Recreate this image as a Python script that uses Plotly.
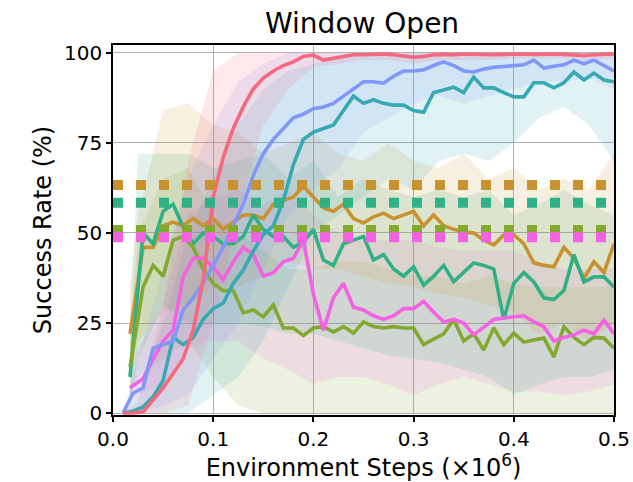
import plotly.graph_objects as go

# ---------------- data ----------------
X = [round(0.01 * i, 2) for i in range(1, 51)]          # eval steps (x1e6)
X2 = [0.017] + X[2:]                                    # later-starting runs

RED = [0, 0, 0.3, 3.5, 7, 11, 15, 23, 37, 60, 71, 79, 85, 90, 93, 95, 96.5, 97.5, 99, 99.4,
       98, 98.5, 99, 99.5, 99.5, 99.7, 99.7, 99.5, 99.2, 98.8, 99, 99.5, 99.6, 99.5, 99.7, 99.6,
       99.7, 99.5, 99.6, 99.7, 99.7, 99.6, 99.7, 99.7, 99.6, 99.5, 99.3, 99.5, 99.6, 99.7]
BLUE = [0, 5.5, 7, 18, 19, 20, 28.6, 32, 36, 41, 46, 52, 58, 66, 72, 76, 79, 82, 83, 84.5,
        85, 86, 88, 90, 92, 92, 91.6, 93.5, 95, 95, 95.3, 96.5, 97.5, 96.5, 95, 94.7, 95.5, 96,
        96.3, 96.5, 96.7, 98, 95.8, 96.3, 96.7, 98, 97, 98, 96.5, 95]
TEAL = [0, 0.5, 1.7, 4.5, 9, 21, 19, 21, 26, 29, 30.5, 36, 39.7, 45, 49.5, 52, 59, 69, 76, 78,
        79, 80, 84, 88, 86, 87, 86, 85.5, 85.5, 84, 83.5, 89, 89.7, 90.5, 89, 93.3, 90.3, 90.3,
        89, 87.8, 87.8, 91.7, 91.7, 90.3, 91.7, 94.7, 92.5, 94.4, 92.5, 92]
GOLD = [22, 46, 46, 52, 53, 52, 54, 52, 54, 51, 53, 55, 55, 54, 58, 59, 60, 63, 60, 57, 56, 58,
        54, 52.8, 54.5, 55.5, 54, 55, 56, 52, 55, 52, 51, 50.3, 50, 48, 46.7, 49.4, 49.5, 47,
        41.7, 41, 40.6, 46, 43, 37.5, 42, 39, 47]
GREEN = [10, 50, 47, 56, 58, 51.7, 47, 50, 49, 47, 47, 49, 55, 51, 49, 49, 46, 47.5, 51, 42.5,
         41, 47, 48, 49, 42.5, 44, 40, 38, 40.6, 35.5, 38, 41, 36.5, 39, 41.7, 41, 40, 26, 36,
         39, 36.4, 32, 31.5, 34, 44, 36.4, 37.8, 37.8, 35]
MAGENTA = [7, 9.5, 15, 20, 23, 37.8, 43, 43, 40.6, 37, 42, 46, 44, 38, 39, 42, 43, 48, 33, 23,
           32, 36, 29.4, 28.6, 27, 26, 27, 29, 29, 31, 28, 25.3, 26, 25, 21.7, 24, 26, 26.4,
           26.8, 27, 25.3, 24, 20, 21, 21.7, 23, 22, 25.8, 22]
OLIVE = [12.8, 35, 41, 38, 48, 49, 46, 40, 36, 34, 34, 27.8, 28.6, 26.7, 30, 23.6, 23.6, 21.5,
         23.6, 24, 22.5, 24, 22.2, 25.3, 24, 23.6, 24, 23.6, 23.6, 19, 20.5, 22, 26, 20, 22,
         17.5, 23.6, 19, 22.2, 19.7, 20.3, 20.8, 15.6, 24, 21, 19, 21, 20.8, 18]

# shaded spread (coarser x grid)
BX = [0.01, 0.025, 0.05, 0.075, 0.1, 0.125, 0.15, 0.175, 0.2, 0.225, 0.25, 0.275, 0.3,
      0.325, 0.35, 0.375, 0.4, 0.425, 0.45, 0.475, 0.5]
BX2 = [0.017] + BX[1:]
RED_LO = [0, 0, 0, 2, 25, 55, 80, 90, 96, 97, 98, 98, 97, 98, 98, 98, 98.5, 98.5, 98.5, 98, 98.5]
RED_HI = [0, 3, 30, 70, 95, 100, 100, 100, 100, 100, 100, 100, 100, 100, 100, 100, 100, 100, 100, 100, 100]
BLUE_LO = [0, 0, 2, 5, 15, 25, 40, 55, 62, 68, 78, 82, 86, 88, 86, 88, 90, 92, 92, 93, 90]
BLUE_HI = [0, 15, 40, 65, 80, 92, 97, 100, 100, 100, 100, 100, 100, 100, 100, 100, 100, 100, 100, 100, 100]
TEAL_LO = [0, 0, 0, 0, 5, 10, 20, 35, 50, 55, 60, 65, 62, 70, 72, 70, 75, 82, 85, 80, 70]
TEAL_HI = [0, 5, 25, 50, 65, 80, 90, 95, 97, 99, 100, 100, 100, 100, 100, 100, 100, 100, 100, 100, 100]
GOLD_LO = [10, 20, 28, 30, 35, 35, 38, 42, 40, 40, 38, 36, 35, 33, 32, 30, 28, 22, 25, 20, 25]
GOLD_HI = [35, 55, 84, 86, 80, 78, 72, 75, 78, 72, 70, 75, 70, 68, 72, 65, 68, 62, 65, 62, 72]
GREEN_LO = [2, 15, 30, 25, 25, 25, 24, 22, 22, 20, 18, 16, 15, 14, 12, 10, 5, 8, 10, 10, 12]
GREEN_HI = [25, 72, 72, 72, 68, 70, 72, 65, 70, 60, 65, 62, 60, 62, 60, 62, 55, 58, 62, 58, 55]
MAGENTA_LO = [3, 5, 8, 18, 20, 20, 15, 12, 8, 10, 10, 8, 5, 8, 10, 8, 6, 6, 5, 6, 8]
MAGENTA_HI = [12, 18, 30, 55, 60, 62, 58, 62, 55, 50, 48, 48, 48, 46, 45, 45, 45, 42, 40, 40, 40]
OLIVE_LO = [5, 10, 15, 20, 10, 2, 0, 0, 0, 0, 0, 0, 0, 0, 0, 0, 0, 0, 0, 0, 0]
OLIVE_HI = [20, 50, 65, 68, 55, 50, 45, 40, 40, 42, 42, 40, 38, 38, 36, 38, 36, 35, 35, 35, 35]

# baselines (horizontal dotted)
BASE_NAMES = ["gold", "green", "olive", "magenta"]
BASE_VALUES = [63.3, 58.4, 50.8, 48.8]
X_SPAN = [0.0, 0.5]

TITLE = "Window Open"
XLABEL = "Environment Steps (×10<sup>6</sup>)"
YLABEL = "Success Rate (%)"
XTICKS = [0.0, 0.1, 0.2, 0.3, 0.4, 0.5]
XTICKTEXT = ["0.0", "0.1", "0.2", "0.3", "0.4", "0.5"]
YTICKS = [0, 25, 50, 75, 100]

# ---------------- style ----------------
COL = {
    "red": "#f6687d",
    "blue": "#8097f7",
    "teal": "#36a9b2",
    "gold": "#c8922e",
    "green": "#30b087",
    "magenta": "#f462e4",
    "olive": "#84a92f",
}


def rgba(hexc, a):
    h = hexc.lstrip("#")
    r, g, b = int(h[0:2], 16), int(h[2:4], 16), int(h[4:6], 16)
    return f"rgba({r},{g},{b},{a})"


fig = go.Figure()

bands = [
    ("olive", BX2, OLIVE_LO, OLIVE_HI),
    ("magenta", BX2, MAGENTA_LO, MAGENTA_HI),
    ("green", BX2, GREEN_LO, GREEN_HI),
    ("gold", BX2, GOLD_LO, GOLD_HI),
    ("teal", BX, TEAL_LO, TEAL_HI),
    ("blue", BX, BLUE_LO, BLUE_HI),
    ("red", BX, RED_LO, RED_HI),
]
for name, bx, lo, hi in bands:
    fig.add_trace(go.Scatter(
        x=list(bx) + list(bx)[::-1], y=list(hi) + list(lo)[::-1],
        fill="toself", fillcolor=rgba(COL[name], 0.15),
        line=dict(width=0), mode="lines", hoverinfo="skip", showlegend=False))

lines = [
    ("gold", X2, GOLD),
    ("green", X2, GREEN),
    ("olive", X2, OLIVE),
    ("magenta", X2, MAGENTA),
    ("teal", X, TEAL),
    ("blue", X, BLUE),
    ("red", X, RED),
]
for name, xs, ys in lines:
    fig.add_trace(go.Scatter(x=xs, y=ys, mode="lines",
                             line=dict(color=COL[name], width=3.6),
                             showlegend=False))

for name, val in zip(BASE_NAMES, BASE_VALUES):
    fig.add_trace(go.Scatter(x=X_SPAN, y=[val, val], mode="lines",
                             line=dict(color=COL[name], width=10, dash="10px,13px"),
                             showlegend=False))

FONT = "DejaVu Sans"
fig.update_layout(
    width=633, height=482,
    margin=dict(l=113, r=19, t=45, b=67),
    paper_bgcolor="white", plot_bgcolor="white",
    font=dict(family=FONT, color="black"),
    title=dict(text=TITLE, x=0.572, xanchor="center", y=0.952, yanchor="middle",
               yref="container", font=dict(size=28, family=FONT, color="black")),
    showlegend=False,
)
fig.update_xaxes(
    range=[0, 0.5], tickvals=XTICKS, ticktext=XTICKTEXT,
    showgrid=True, gridcolor="#b0b0b0", gridwidth=1.3,
    showline=True, linecolor="black", linewidth=1.5, mirror=True,
    ticks="outside", ticklen=5, tickwidth=1.5, tickcolor="black",
    tickfont=dict(size=20, family=FONT), zeroline=False,
    title=dict(text=XLABEL, font=dict(size=24, family=FONT), standoff=7),
    automargin=False,
)
fig.update_yaxes(
    range=[-0.55, 102.2], tickvals=YTICKS,
    showgrid=True, gridcolor="#b0b0b0", gridwidth=1.3,
    showline=True, linecolor="black", linewidth=1.5, mirror=True,
    ticks="outside", ticklen=5, tickwidth=1.5, tickcolor="black",
    tickfont=dict(size=20, family=FONT), zeroline=False,
    title=dict(text=YLABEL, font=dict(size=24, family=FONT), standoff=6),
    automargin=False,
)

fig.write_html("out.html")
